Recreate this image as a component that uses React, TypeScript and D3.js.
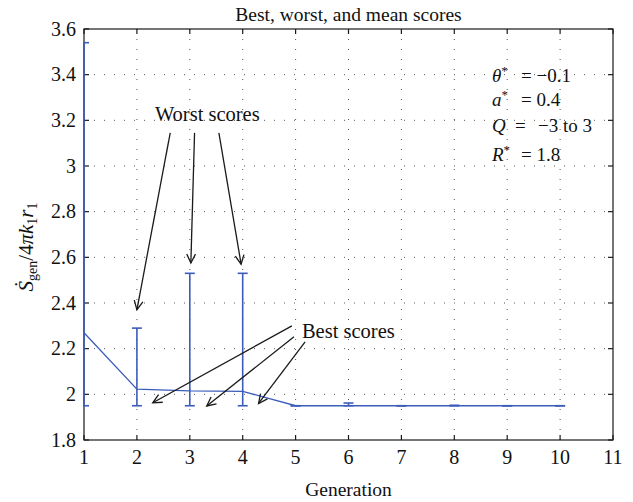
import * as d3 from "d3";

const generations = [1, 2, 3, 4, 5, 6, 7, 8, 9, 10];
const meanScores = [2.27, 2.023, 2.015, 2.013, 1.95, 1.95, 1.95, 1.95, 1.95, 1.95];
const bestScores = [1.95, 1.95, 1.95, 1.95, 1.95, 1.95, 1.95, 1.95, 1.95, 1.95];
const worstScores = [3.54, 2.29, 2.53, 2.53, 1.95, 1.962, 1.95, 1.952, 1.95, 1.95];

const xTicks = [1, 2, 3, 4, 5, 6, 7, 8, 9, 10, 11];
const yTicks = [1.8, 2, 2.2, 2.4, 2.6, 2.8, 3, 3.2, 3.4, 3.6];

// annotation arrows, in data units: [fromX, fromY, toX, toY]
const worstArrows = [
  [2.63, 3.145, 2.0, 2.37],
  [3.09, 3.145, 3.02, 2.575],
  [3.55, 3.145, 3.97, 2.57],
];
const bestArrows = [
  [4.93, 2.3, 2.3, 1.963],
  [4.97, 2.252, 3.32, 1.949],
  [5.18, 2.23, 4.3, 1.96],
];

const W = 633;
const H = 502;
const FONT = "'Liberation Serif', 'Times New Roman', serif";
const BLUE = "#3c5cba";

const x = d3.scaleLinear().domain([1, 11]).range([84, 613]);
const y = d3.scaleLinear().domain([1.8, 3.6]).range([440, 29]);

function Arrow({ a }: { a: number[] }) {
  const x1 = x(a[0]);
  const y1 = y(a[1]);
  const x2 = x(a[2]);
  const y2 = y(a[3]);
  const ang = Math.atan2(y2 - y1, x2 - x1);
  const len = 10;
  const spread = 0.45;
  const h1 = [x2 - len * Math.cos(ang - spread), y2 - len * Math.sin(ang - spread)];
  const h2 = [x2 - len * Math.cos(ang + spread), y2 - len * Math.sin(ang + spread)];
  return (
    <g stroke="#1a1a1a" strokeWidth={1.3} fill="none">
      <line x1={x1} y1={y1} x2={x2} y2={y2} />
      <polyline points={`${h1[0]},${h1[1]} ${x2},${y2} ${h2[0]},${h2[1]}`} />
    </g>
  );
}

export default function App() {
  const [x0, x1] = x.range();
  const [y0, y1] = y.range();
  const meanLine = d3
    .line<number>()
    .x((_, i) => x(generations[i]))
    .y((d) => y(d));

  return (
    <svg
      width={W}
      height={H}
      style={{ position: "absolute", left: 0, top: 0, background: "#fff" }}
      fontFamily={FONT}
    >
      <defs>
        <clipPath id="plot">
          <rect x={x0 - 1} y={y1} width={x1 - x0 + 1} height={y0 - y1} />
        </clipPath>
      </defs>

      {/* grid */}
      <g stroke="#555" strokeWidth={1} strokeDasharray="1 9">
        {xTicks.slice(1, -1).map((t) => (
          <line key={"gx" + t} x1={x(t)} x2={x(t)} y1={y0} y2={y1} />
        ))}
        {yTicks.slice(1, -1).map((t) => (
          <line key={"gy" + t} x1={x0} x2={x1} y1={y(t)} y2={y(t)} />
        ))}
      </g>

      {/* box and inward ticks */}
      <rect x={x0} y={y1} width={x1 - x0} height={y0 - y1} fill="none" stroke="#1a1a1a" strokeWidth={1.2} />
      <g stroke="#1a1a1a" strokeWidth={1.2}>
        {xTicks.map((t) => (
          <g key={"tx" + t}>
            <line x1={x(t)} x2={x(t)} y1={y0} y2={y0 - 5} />
            <line x1={x(t)} x2={x(t)} y1={y1} y2={y1 + 5} />
          </g>
        ))}
        {yTicks.map((t) => (
          <g key={"ty" + t}>
            <line x1={x0} x2={x0 + 5} y1={y(t)} y2={y(t)} />
            <line x1={x1} x2={x1 - 5} y1={y(t)} y2={y(t)} />
          </g>
        ))}
      </g>

      {/* tick labels */}
      <g fontSize={20} fill="#111">
        {xTicks.map((t) => (
          <text key={"lx" + t} x={x(t)} y={y0 + 24} textAnchor="middle">
            {t}
          </text>
        ))}
        {yTicks.map((t) => (
          <text key={"ly" + t} x={x0 - 8} y={y(t) + 6.5} textAnchor="end">
            {d3.format("~g")(t)}
          </text>
        ))}
      </g>

      {/* data */}
      <g clipPath="url(#plot)">
        <path d={meanLine(meanScores) ?? ""} fill="none" stroke={BLUE} strokeWidth={1.3} />
        <g stroke={BLUE} strokeWidth={1.6}>
          {generations.map((g, i) => (
            <g key={"eb" + g}>
              <line x1={x(g)} x2={x(g)} y1={y(bestScores[i])} y2={y(worstScores[i])} />
              <line x1={x(g) - 5} x2={x(g) + 5} y1={y(bestScores[i])} y2={y(bestScores[i])} />
              <line x1={x(g) - 5} x2={x(g) + 5} y1={y(worstScores[i])} y2={y(worstScores[i])} />
            </g>
          ))}
        </g>
      </g>

      {/* annotations */}
      {worstArrows.map((a, i) => (
        <Arrow key={"wa" + i} a={a} />
      ))}
      {bestArrows.map((a, i) => (
        <Arrow key={"ba" + i} a={a} />
      ))}
      <g fontSize={20.5} fill="#111">
        <text x={x(2.34)} y={y(3.197)}>Worst scores</text>
        <text x={x(5.12)} y={y(2.245)}>Best scores</text>
      </g>

      {/* parameter legend */}
      <g fontSize={19} fill="#111">
        <text x={492} y={82}>
          <tspan fontStyle="italic">θ</tspan>
          <tspan dy={-7} fontSize={13}>*</tspan>
          <tspan x={521} dy={7}>= −0.1</tspan>
        </text>
        <text x={492} y={106}>
          <tspan fontStyle="italic">a</tspan>
          <tspan dy={-7} fontSize={13}>*</tspan>
          <tspan x={521} dy={7}>= 0.4</tspan>
        </text>
        <text x={492} y={132}>
          <tspan fontStyle="italic">Q</tspan>
          <tspan x={515}>=</tspan>
          <tspan x={538}>−3 to 3</tspan>
        </text>
        <text x={492} y={161}>
          <tspan fontStyle="italic">R</tspan>
          <tspan dy={-7} fontSize={13}>*</tspan>
          <tspan x={521} dy={7}>= 1.8</tspan>
        </text>
      </g>

      {/* title and axis labels */}
      <text x={(x0 + x1) / 2} y={21} textAnchor="middle" fontSize={19.5} fill="#111">
        Best, worst, and mean scores
      </text>
      <text x={(x0 + x1) / 2} y={496} textAnchor="middle" fontSize={19.5} fill="#111">
        Generation
      </text>
      <text transform={`translate(33, 247) rotate(-90)`} textAnchor="middle" fontSize={21} fill="#111">
        <tspan fontStyle="italic">Ṡ</tspan>
        <tspan fontSize={14} dy={4}>gen</tspan>
        <tspan dy={-4}>/4</tspan>
        <tspan fontStyle="italic">πk</tspan>
        <tspan fontSize={14} dy={4}>1</tspan>
        <tspan fontStyle="italic" dy={-4}>r</tspan>
        <tspan fontSize={14} dy={4}>1</tspan>
      </text>
    </svg>
  );
}
